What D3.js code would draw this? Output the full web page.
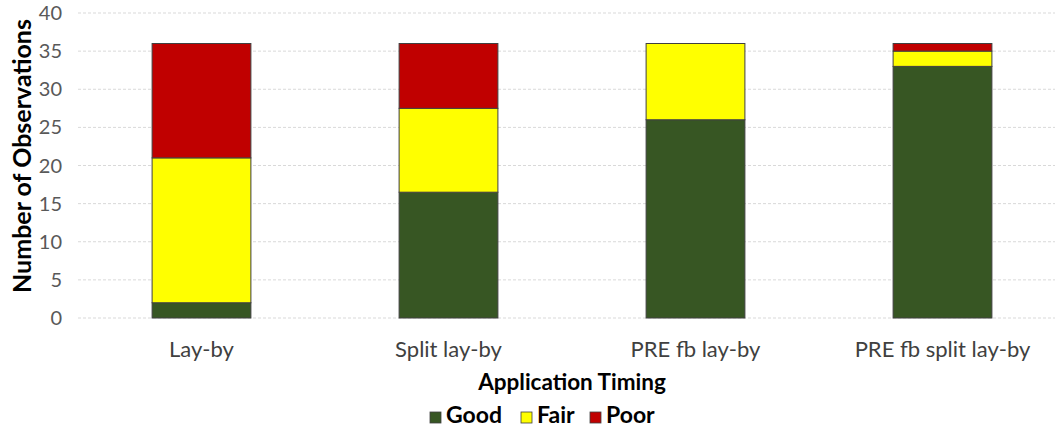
<!DOCTYPE html>
<html><head><meta charset="utf-8">
<script src="https://cdn.jsdelivr.net/npm/d3@7"></script>
<style>body{margin:0;background:#fff;} svg{display:block;font-family:Lato,"Open Sans",sans-serif;}</style>
</head><body>
<svg id="chart" width="1055" height="432"></svg>
<script>
const categories = ["Lay-by", "Split lay-by", "PRE fb lay-by", "PRE fb split lay-by"];
const seriesNames = ["Good", "Fair", "Poor"];
const good = [2, 16.5, 26, 33];
const fair = [19, 11, 10, 2];
const poor = [15, 8.5, 0, 1];
const yTicks = [0, 5, 10, 15, 20, 25, 30, 35, 40];
const colors = {Good: "#375623", Fair: "#FFFF00", Poor: "#C00000"};

const rows = categories.map((c, i) => ({cat: c, Good: good[i], Fair: fair[i], Poor: poor[i]}));
const svg = d3.select("#chart");
const x = d3.scaleBand().domain(categories).range([78, 1066]).paddingInner(0.6).paddingOuter(0.3);
const y = d3.scaleLinear().domain([0, 40]).range([318, 13]);

// gridlines
svg.append("g").selectAll("line").data(yTicks).join("line")
  .attr("x1", 78).attr("x2", 1066)
  .attr("y1", d => y(d)).attr("y2", d => y(d))
  .attr("stroke", "#d9d9d9").attr("stroke-width", 1).attr("stroke-dasharray", "3,2");

// y tick labels
svg.append("g").selectAll("text").data(yTicks).join("text")
  .attr("x", 62).attr("y", d => y(d)).attr("dy", "0.35em")
  .attr("text-anchor", "end").attr("fill", "#595959").attr("font-size", 20)
  .text(d => d);

const stack = d3.stack().keys(seriesNames)(rows);
svg.append("g").selectAll("g").data(stack).join("g")
  .attr("fill", d => colors[d.key])
  .selectAll("rect").data(d => d.filter(p => p[1] - p[0] > 0)).join("rect")
  .attr("x", d => x(d.data.cat)).attr("width", x.bandwidth())
  .attr("y", d => y(d[1])).attr("height", d => y(d[0]) - y(d[1]))
  .attr("stroke", "#404040").attr("stroke-width", 1);

// x labels
svg.append("g").selectAll("text").data(categories).join("text")
  .attr("x", d => x(d) + x.bandwidth() / 2).attr("y", 357)
  .attr("text-anchor", "middle").attr("fill", "#404040").attr("font-size", 22)
  .text(d => d);

svg.append("text").attr("x", 572).attr("y", 390).attr("text-anchor", "middle")
  .attr("font-weight", "bold").attr("font-size", 22.5).attr("fill", "#000")
  .text("Application Timing");

svg.append("text").attr("transform", "translate(31,156) rotate(-90)")
  .attr("text-anchor", "middle").attr("font-weight", "bold").attr("font-size", 25)
  .attr("fill", "#000").text("Number of Observations");

// legend
const legX = [430, 521, 590];
const leg = svg.append("g").selectAll("g").data(seriesNames).join("g")
  .attr("transform", (d, i) => `translate(${legX[i]},412)`);
leg.append("rect").attr("width", 11).attr("height", 11)
  .attr("fill", d => colors[d]).attr("stroke", "#404040").attr("stroke-width", 0.8);
leg.append("text").attr("x", 16).attr("y", 11)
  .attr("font-weight", "bold").attr("font-size", 23).attr("fill", "#000").text(d => d);
</script>
</body></html>
